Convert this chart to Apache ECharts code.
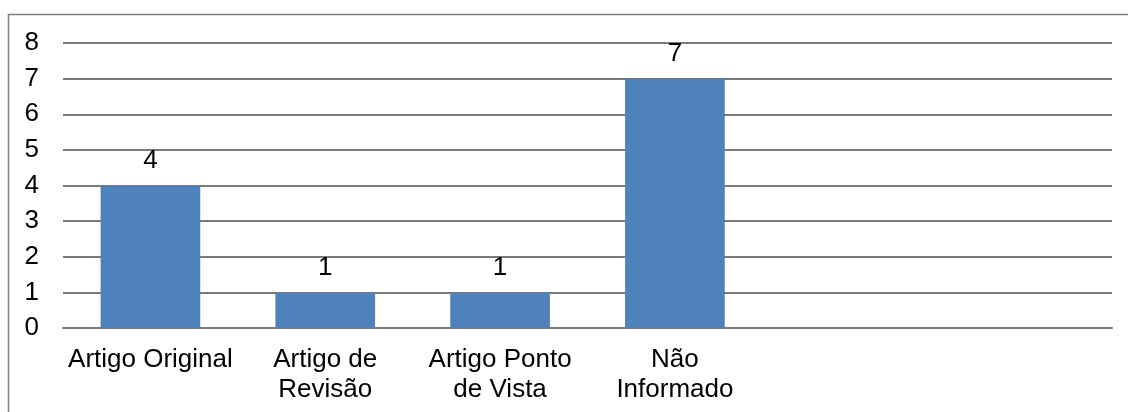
<!DOCTYPE html>
<html>
<head>
<meta charset="utf-8">
<script src="https://cdn.jsdelivr.net/npm/echarts@6/dist/echarts.min.js"></script>
<style>
html, body { margin: 0; padding: 0; background: #fff; }
#main { width: 1128px; height: 412px; }
</style>
</head>
<body>
<div id="main"></div>
<script>
var categories = ['Artigo Original', 'Artigo de\nRevisão', 'Artigo Ponto\nde Vista', 'Não\nInformado', '', ''];
var values = [4, 1, 1, 7, '-', '-'];
var yTicks = { min: 0, max: 8, interval: 1 };

var dom = document.getElementById('main');
var myChart = echarts.init(dom);
var gridColor = '#7a7a7a';
var font = 'Liberation Sans, Arial, sans-serif';

var option = {
    animation: false,
    graphic: [{
        type: 'rect',
        shape: { x: 8.5, y: 14.5, width: 1200, height: 500 },
        style: { fill: 'none', stroke: '#7f7f7f', lineWidth: 1.5 },
        silent: true
    }],
    grid: {
        left: 63,
        right: 16,
        top: 43,
        bottom: 84
    },
    xAxis: {
        type: 'category',
        data: categories,
        axisLine: { show: true, lineStyle: { color: gridColor, width: 2 } },
        axisTick: { show: false },
        axisLabel: {
            interval: 0,
            color: '#000',
            fontSize: 26,
            fontFamily: font,
            lineHeight: 30,
            margin: 17
        }
    },
    yAxis: {
        type: 'value',
        min: yTicks.min,
        max: yTicks.max,
        interval: yTicks.interval,
        axisLine: { show: false },
        axisTick: { show: false },
        axisLabel: {
            color: '#000',
            fontSize: 26,
            fontFamily: font,
            margin: 24
        },
        splitLine: { show: true, lineStyle: { color: gridColor, width: 2 } }
    },
    series: [{
        type: 'bar',
        data: values,
        barWidth: '57%',
        itemStyle: { color: '#4F81BD' },
        label: {
            show: true,
            position: 'top',
            distance: 12,
            color: '#000',
            fontSize: 26,
            fontFamily: font
        }
    }]
};
myChart.setOption(option, true);
window.addEventListener('resize', function () {
    myChart.resize();
});
</script>
</body>
</html>
